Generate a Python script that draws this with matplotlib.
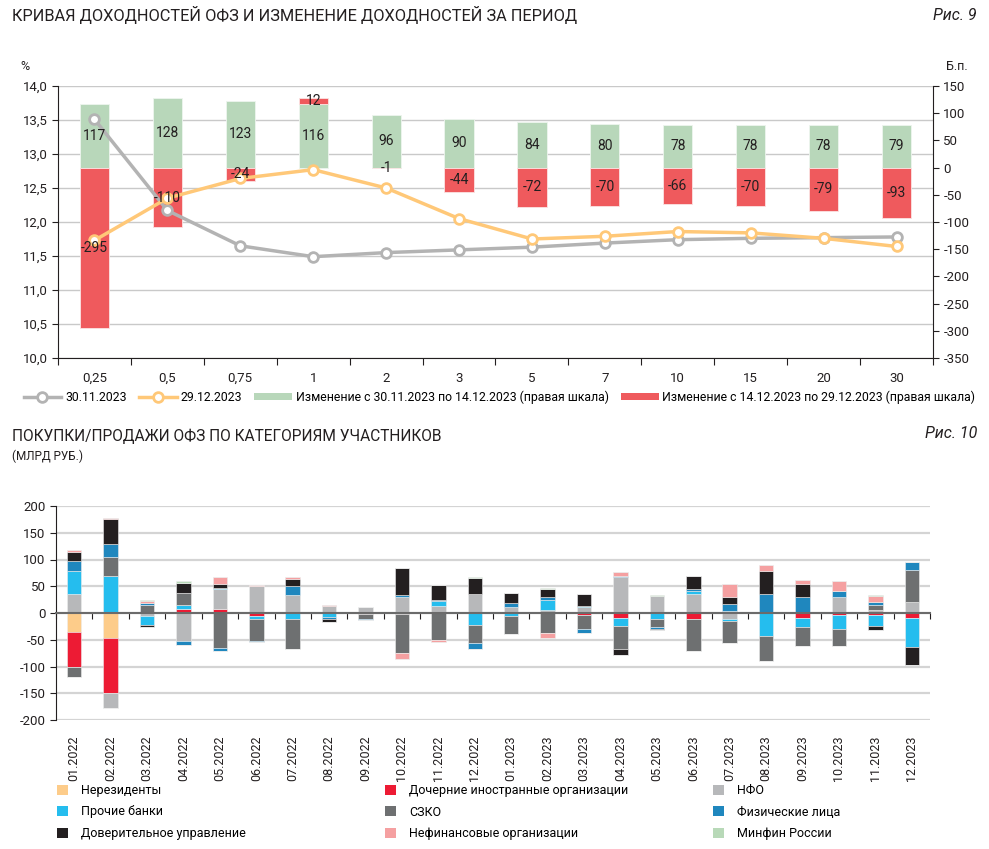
import matplotlib
matplotlib.use("Agg")
import matplotlib.pyplot as plt
from matplotlib.lines import Line2D
from matplotlib.patches import Patch
from matplotlib.ticker import FuncFormatter
import numpy as np

plt.rcParams['font.family'] = ['Roboto', 'DejaVu Sans']
plt.rcParams['axes.unicode_minus'] = False

# ---- Рис. 9: кривая доходностей ОФЗ
maturities = ["0,25", "0,5", "0,75", "1", "2", "3", "5", "7", "10", "15", "20", "30"]
yield_3011 = [13.51, 12.17, 11.65, 11.49, 11.55, 11.59, 11.63, 11.69, 11.74, 11.76, 11.77, 11.78]
yield_2912 = [11.73, 12.35, 12.64, 12.77, 12.50, 12.05, 11.75, 11.79, 11.86, 11.84, 11.76, 11.64]
chg_first = [117, 128, 123, 116, 96, 90, 84, 80, 78, 78, 78, 79]
chg_second = [-295, -110, -24, 12, -1, -44, -72, -70, -66, -70, -79, -93]

# ---- Рис. 10: покупки/продажи ОФЗ, млрд руб.
months = ["01.2022", "02.2022", "03.2022", "04.2022", "05.2022", "06.2022",
          "07.2022", "08.2022", "09.2022", "10.2022", "11.2022", "12.2022",
          "01.2023", "02.2023", "03.2023", "04.2023", "05.2023", "06.2023",
          "07.2023", "08.2023", "09.2023", "10.2023", "11.2023", "12.2023"]
nonresidents = [-36, -46, 0, 0, 0, 0, 0, 0, 0, 0, 0, 0, 0, 0, 0, 0, 0, 0, 0, 0, 0, 0, 0, 0]
foreign_subs = [-65, -103, 0, 7, 7, -6, 0, 0, -2, -2, 0, 0, 0, 0, -4, -9, 0, -11, 3, 2, -9, -3, -4, -9]
nfo = [36, -28, -5, -52, 38, 50, 33, 13, 11, 29, 14, 36, 11, 5, 11, 67, 32, 35, -11, 0, 0, 29, 5, 21]
other_banks = [43, 70, -17, 8, 1, -6, -12, -7, 0, 0, 9, -23, -6, 20, 3, -15, -12, 6, -4, -43, -17, -26, -20, -55]
szko = [-18, 35, 15, 22, -65, -41, -56, 0, -9, -72, -50, -34, -34, -37, -26, -44, -15, -60, -41, -47, -36, -32, 10, 60]
households = [18, 24, 3, -8, -6, -2, 17, -4, -3, 4, 1, -11, 7, 4, -7, 3, -2, 3, 14, 34, 29, 13, 5, 15]
trust_mgmt = [17, 46, -4, 19, 9, 0, 14, -5, 0, 52, 28, 30, 19, 16, 21, -10, -2, 25, 12, 42, 25, 0, -8, -33]
nonfin = [3, 2, 4, 0, 13, 2, 3, 2, 1, -12, -4, 0, 0, -10, 0, 6, 0, 1, 26, 11, 7, 17, 12, -1]
minfin = [0, 0, 3, 3, 0, 1, 0, 0, 0, 0, 0, 1, 0, 1, 1, 1, 1, 0, 0, 0, 1, 1, 1, 0]

series = [
    ("Нерезиденты", nonresidents, "#FDCC8A"),
    ("Дочерние иностранные организации", foreign_subs, "#ED1B34"),
    ("НФО", nfo, "#B7B8BA"),
    ("Прочие банки", other_banks, "#25BDEE"),
    ("СЗКО", szko, "#6E7071"),
    ("Физические лица", households, "#1F87BE"),
    ("Доверительное управление", trust_mgmt, "#231F20"),
    ("Нефинансовые организации", nonfin, "#F5A0A1"),
    ("Минфин России", minfin, "#B8D9B8"),
]

W, H = 989, 849
fig = plt.figure(figsize=(W / 100, H / 100), dpi=100)


def box(x0, y0, x1, y1):
    # pixel box -> figure fraction
    return [x0 / W, 1 - y1 / H, (x1 - x0) / W, (y1 - y0) / H]


def fy(y):
    return 1 - y / H


dark = "#231F20"
GREEN, RED = "#B8D7BA", "#EF5A5D"
GRAY_LINE, ORANGE_LINE = "#B3B3B3", "#FFC878"

# ================= top chart =================
fig.text(12 / W, fy(15), "КРИВАЯ ДОХОДНОСТЕЙ ОФЗ И ИЗМЕНЕНИЕ ДОХОДНОСТЕЙ ЗА ПЕРИОД",
         fontsize=11.8, va="center", ha="left", color=dark)
fig.text(977 / W, fy(15), "Рис. 9", fontsize=11.5, style="italic", va="center", ha="right", color=dark)

ax = fig.add_axes(box(58, 86, 933, 358))
x = np.arange(len(maturities))
ax.set_xlim(-0.5, len(maturities) - 0.5)
ax.set_ylim(10, 14)
ax.set_yticks(np.arange(10, 14.01, 0.5))
ax.yaxis.set_major_formatter(FuncFormatter(lambda v, p: f"{v:.1f}".replace(".", ",")))
ax.grid(axis="y", color="#C9C9C9", lw=1)
ax.set_axisbelow(True)
ax.set_xticks(np.arange(-0.5, len(maturities), 1))
ax.set_xticklabels([])
ax.set_xticks(x, minor=True)
ax.set_xticklabels(maturities, minor=True)
ax.tick_params(axis="x", which="major", length=5, color=dark)
ax.tick_params(axis="x", which="minor", length=0, pad=10, labelsize=9.5, labelcolor=dark)
ax.tick_params(axis="y", length=4, labelsize=9.5, labelcolor=dark, color=dark)
for s in ("top", "right"):
    ax.spines[s].set_visible(False)
ax.spines["left"].set_color(dark)
ax.spines["bottom"].set_color(dark)

ax2 = ax.twinx()
ax2.set_ylim(-350, 150)
ax2.set_yticks(np.arange(-350, 151, 50))
ax2.tick_params(axis="y", length=4, labelsize=9.5, labelcolor=dark, color=dark)
for s in ("top", "left", "bottom"):
    ax2.spines[s].set_visible(False)
ax2.spines["right"].set_color(dark)

ax2.bar(x, chg_first, 0.4, color=GREEN, edgecolor="#EEF5EE", lw=0.6)
red_bottom = [g if r > 0 else 0 for g, r in zip(chg_first, chg_second)]
ax2.bar(x, chg_second, 0.4, bottom=red_bottom, color=RED, edgecolor="#FBE3E3", lw=0.6)

# lines on their own transparent axes (left scale) above the bars
ax3 = fig.add_axes(ax.get_position(), sharex=ax, sharey=ax)
ax3.set_facecolor("none")
ax3.axis("off")
ax3.plot(x, yield_3011, color=GRAY_LINE, lw=2.5, marker="o", ms=7, mfc="white", mew=2)
ax3.plot(x, yield_2912, color=ORANGE_LINE, lw=2.5, marker="o", ms=7, mfc="white", mew=2)

# bar value labels go on top of everything, in right-scale coordinates
for i, (g, r, b) in enumerate(zip(chg_first, chg_second, red_bottom)):
    ax3.text(i, g / 2, str(g), transform=ax2.transData, ha="center", va="center",
             fontsize=10, color=dark, zorder=5)
    ax3.text(i, b + r / 2, str(r), transform=ax2.transData, ha="center", va="center",
             fontsize=10, color=dark, zorder=5)

fig.text(25 / W, fy(67), "%", fontsize=9, ha="center", va="center", color=dark)
fig.text(957 / W, fy(67), "Б.п.", fontsize=9, ha="center", va="center", color=dark)

handles = [
    Line2D([], [], color=GRAY_LINE, lw=2.5, marker="o", ms=7, mfc="white", mew=2),
    Line2D([], [], color=ORANGE_LINE, lw=2.5, marker="o", ms=7, mfc="white", mew=2),
    Patch(facecolor=GREEN),
    Patch(facecolor=RED),
]
labels = ["30.11.2023", "29.12.2023",
          "Изменение с 30.11.2023 по 14.12.2023 (правая шкала)",
          "Изменение с 14.12.2023 по 29.12.2023 (правая шкала)"]
fig.legend(handles, labels, loc="center", bbox_to_anchor=(0.505, fy(397)), ncol=4, frameon=False,
           fontsize=8.8, handlelength=3.1, handleheight=0.6, handletextpad=0.3, columnspacing=1.0)

# ================= bottom chart =================
fig.text(12 / W, fy(436), "ПОКУПКИ/ПРОДАЖИ ОФЗ ПО КАТЕГОРИЯМ УЧАСТНИКОВ",
         fontsize=11.2, va="center", ha="left", color=dark)
fig.text(12 / W, fy(456), "(МЛРД РУБ.)", fontsize=8.5, va="center", ha="left", color=dark)
fig.text(977 / W, fy(434), "Рис. 10", fontsize=11.5, style="italic", va="center", ha="right", color=dark)

bx = fig.add_axes(box(56, 506, 930, 720))
xm = np.arange(len(months))
bx.set_xlim(-0.5, len(months) - 0.5)
bx.set_ylim(-200, 200)
bx.set_yticks(np.arange(-200, 201, 50))
bx.grid(axis="y", color="#D4D4D4", lw=1.6)
bx.set_axisbelow(True)

pos_base = np.zeros(len(months))
neg_base = np.zeros(len(months))
for name, vals, col in series:
    v = np.array(vals, dtype=float)
    pos = np.where(v > 0, v, 0)
    neg = np.where(v < 0, v, 0)
    bx.bar(xm, pos, 0.4, bottom=pos_base, color=col, edgecolor="#EDEDED", lw=0.4)
    bx.bar(xm, neg, 0.4, bottom=neg_base, color=col, edgecolor="#EDEDED", lw=0.4)
    pos_base += pos
    neg_base += neg

for s in ("top", "right"):
    bx.spines[s].set_visible(False)
bx.spines["left"].set_color(dark)
bx.spines["bottom"].set_position(("data", 0))
bx.spines["bottom"].set_color("#6B6B6B")
bx.spines["bottom"].set_linewidth(1.5)
bx.set_xticks(np.arange(-0.5, len(months), 1))
bx.set_xticklabels([])
bx.tick_params(axis="x", length=4, color=dark)
bx.tick_params(axis="y", length=4, labelsize=9.5, labelcolor=dark, color=dark)

sec = bx.secondary_xaxis(0.0)
sec.set_xticks(xm)
sec.set_xticklabels(months)
sec.tick_params(axis="x", length=0, pad=11, labelrotation=90, labelsize=9, labelcolor=dark)
sec.spines["bottom"].set_visible(False)

# legend in three columns
cols_x = [57, 385, 713]
for c, cx in enumerate(cols_x):
    items = series[c::3]
    hs = [Patch(facecolor=col) for _, _, col in items]
    fig.legend(hs, [n for n, _, _ in items], loc="upper left", bbox_to_anchor=(cx / W, fy(784)),
               frameon=False, fontsize=9, handlelength=0.9, handleheight=0.9,
               handletextpad=1.0, labelspacing=0.68, borderaxespad=0, borderpad=0)

fig.savefig("out.png", dpi=100)
